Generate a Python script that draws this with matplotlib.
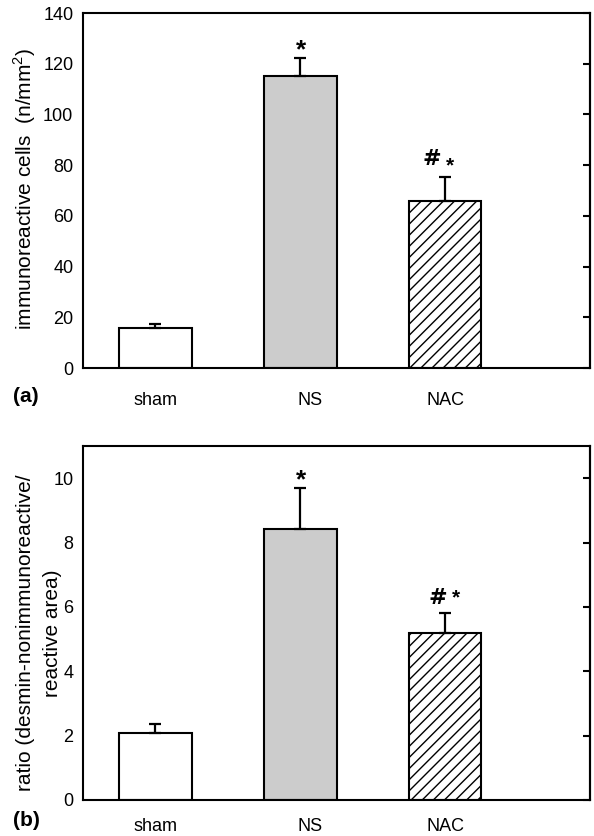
import matplotlib.pyplot as plt
import matplotlib.transforms as mtransforms
import numpy as np

plt.rcParams['font.family'] = ['Liberation Sans', 'DejaVu Sans']
plt.rcParams['mathtext.fontset'] = 'custom'
plt.rcParams['mathtext.rm'] = 'Liberation Sans'
plt.rcParams['hatch.linewidth'] = 1.0

groups = ['sham', 'NS', 'NAC']

# (a) immunoreactive cell density
cells_mean = [15.6, 115.1, 66.0]
cells_err = [1.8, 7.3, 9.4]

# (b) desmin-nonimmunoreactive / reactive area ratio
ratio_mean = [2.07, 8.43, 5.18]
ratio_err = [0.28, 1.28, 0.62]

colors = ['white', '#cccccc', 'white']
hatches = ['', '', '///']


def draw_panel(ax, means, errs, ymax, yticks, xlab_pad, hash_off, star_off):
    x = np.arange(len(groups))
    for i in range(len(groups)):
        ax.bar(x[i], means[i], width=0.5, color=colors[i], edgecolor='black',
               linewidth=1.5, hatch=hatches[i], zorder=2)
        ax.errorbar(x[i], means[i], yerr=[[0], [errs[i]]], fmt='none',
                    ecolor='black', elinewidth=1.6, capsize=4.5,
                    capthick=1.6, zorder=3)
    ax.set_xlim(-0.5, 3.0)
    ax.set_ylim(0, ymax)
    ax.set_yticks(yticks)
    ax.set_xticks(x)
    ax.set_xticklabels(groups, fontsize=13)
    ax.tick_params(axis='x', length=0, pad=xlab_pad)
    ax.tick_params(axis='y', length=0, labelsize=13, pad=7)
    for s in ax.spines.values():
        s.set_linewidth(1.5)
    # NS label sits a little right of its bar
    lbl = ax.get_xticklabels()[1]
    lbl.set_transform(lbl.get_transform() + mtransforms.ScaledTranslation(
        0.1, 0, ax.figure.dpi_scale_trans))

    # inward ticks on the right spine
    sec = ax.secondary_yaxis('right')
    sec.set_yticks(yticks)
    sec.tick_params(direction='in', length=5, width=1.5, labelright=False)
    sec.spines['right'].set_linewidth(1.5)

    # significance markers above error bars
    ax.annotate('*', (x[1], means[1] + errs[1]), xytext=(0.5, 0),
                textcoords='offset points', ha='center', va='baseline',
                fontsize=19, fontweight='bold')
    top_nac = means[2] + errs[2]
    ax.annotate('#', (x[2], top_nac), xytext=hash_off,
                textcoords='offset points', ha='center', va='baseline',
                fontsize=16, fontweight='bold', family='DejaVu Sans')
    ax.annotate('*', (x[2], top_nac), xytext=star_off,
                textcoords='offset points', ha='center', va='baseline',
                fontsize=15, fontweight='bold')


fig = plt.figure(figsize=(5.94, 8.36), dpi=100)
ax1 = fig.add_axes([83 / 594, 1 - 368 / 836, 507 / 594, 355 / 836])
ax2 = fig.add_axes([83 / 594, 1 - 800 / 836, 507 / 594, 354 / 836])

draw_panel(ax1, cells_mean, cells_err, 140, np.arange(0, 141, 20), 17,
           (-9.7, 8.4), (3.6, 4))
draw_panel(ax2, ratio_mean, ratio_err, 11, np.arange(0, 11, 2), 13,
           (-5.4, 6.5), (7.9, 7.2))

fig.text(25 / 594, 1 - 189 / 836,
         r'immunoreactive cells  (n/mm$^\mathregular{2}$)',
         rotation=90, ha='center', va='center', fontsize=15)
# two-line label for (b), one text per line
fig.text(26 / 594, 1 - 633 / 836, 'ratio (desmin-nonimmunoreactive/',
         rotation=90, ha='center', va='center', fontsize=15)
fig.text(52 / 594, 1 - 633 / 836, 'reactive area)',
         rotation=90, ha='center', va='center', fontsize=15)
fig.text(13 / 594, 1 - 397 / 836, '(a)', ha='left', va='center',
         fontsize=15, fontweight='bold')
fig.text(13 / 594, 1 - 821 / 836, '(b)', ha='left', va='center',
         fontsize=15, fontweight='bold')

fig.savefig('out.png', dpi=100)
